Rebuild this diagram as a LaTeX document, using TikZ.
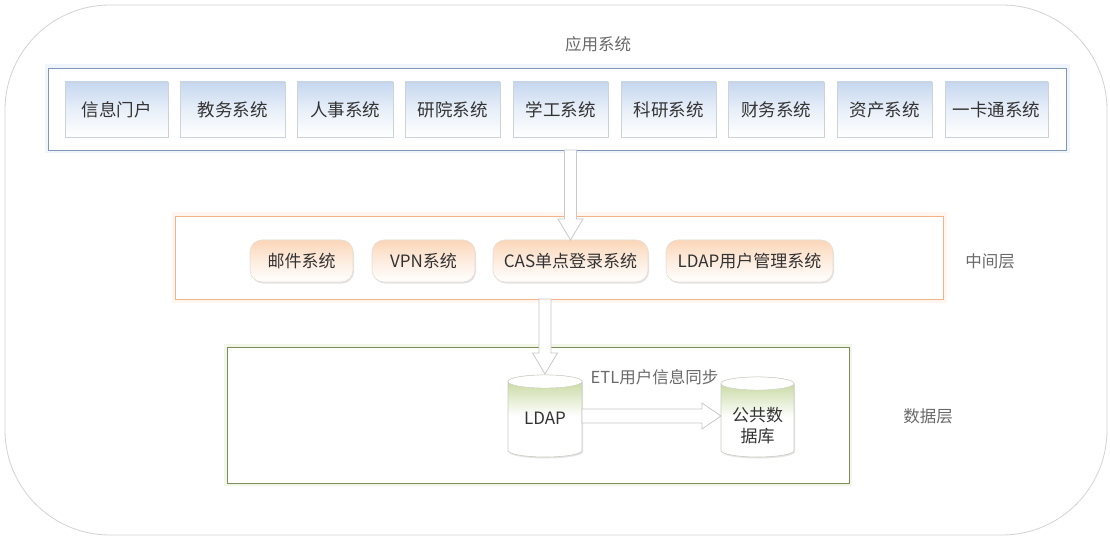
\documentclass[tikz,border=0pt]{standalone}
\usepackage{fontspec}
\setmainfont{Noto Sans CJK SC}
\usetikzlibrary{calc,shadows}
\definecolor{txt}{HTML}{333333}
\definecolor{lbl}{HTML}{6A6A6A}
\definecolor{outerln}{HTML}{D2D2D2}
\definecolor{blueln}{HTML}{8097B8}
\definecolor{bluetop}{HTML}{C5D7EF}
\definecolor{boxln}{HTML}{CDD3DB}
\definecolor{orangeln}{HTML}{F2B38A}
\definecolor{orangetop}{HTML}{FBD6B8}
\definecolor{orboxln}{HTML}{E6DDD5}
\definecolor{greenln}{HTML}{7E8D5C}
\definecolor{greentop}{HTML}{BFD393}
\definecolor{cylln}{HTML}{C9CDC2}
\definecolor{arrln}{HTML}{C8C8C8}
\newcommand\blkdown[2]{\draw[blockarrow] let \p1=(#1), \p2=(#2) in
  (\x2-6pt,\y1) -- (\x2-6pt,\y2+21pt) -- (\x2-12.5pt,\y2+21pt) -- (\x2,\y2)
  -- (\x2+12.5pt,\y2+21pt) -- (\x2+6pt,\y2+21pt) -- (\x2+6pt,\y1) -- cycle;}
\newcommand\blkright[2]{\draw[blockarrow] let \p1=(#1), \p2=(#2) in
  (\x1,\y1+7pt) -- (\x2-19pt,\y1+7pt) -- (\x2-19pt,\y1+13pt) -- (\x2,\y1)
  -- (\x2-19pt,\y1-13pt) -- (\x2-19pt,\y1-7pt) -- (\x1,\y1-7pt) -- cycle;}
\newcommand\dbcyl[1]{%
  \draw[cylbody] ([yshift=-6.5pt]#1.north west) -- ([yshift=6.5pt]#1.south west)
    arc[start angle=180,end angle=360,x radius=0.5*\cylw,y radius=6.5pt]
    -- ([yshift=-6.5pt]#1.north east)
    arc[start angle=0,end angle=180,x radius=0.5*\cylw,y radius=6.5pt] -- cycle;
  \draw[draw=cylln,fill=white] ([yshift=-6.5pt]#1.north) ellipse[x radius=0.5*\cylw,y radius=6.5pt];}
\newlength\cylw
\begin{document}
\begin{tikzpicture}[x=1pt,y=-1pt,
  every node/.style={inner sep=0pt,outer sep=0pt},
  outerbox/.style={draw=outerln,line width=0.8pt,rounded corners=105pt},
  frame/.style={line width=0.9pt},
  bluefr/.style={frame,draw=blueln,fill=white,preaction={draw=bluetop!25,line width=7pt}},
  orangefr/.style={frame,draw=orangeln,fill=white,preaction={draw=orangetop!22,line width=7pt}},
  greenfr/.style={frame,draw=greenln,fill=white,preaction={draw=greentop!20,line width=6pt}},
  appbox/.style={draw=boxln,line width=0.6pt,top color=bluetop,bottom color=white,middle color=white!60!bluetop,
    minimum height=55pt,text=txt,font=\fontsize{17.5}{20}\selectfont,
    drop shadow={opacity=0.25,shadow xshift=1pt,shadow yshift=-1.5pt}},
  orbox/.style={draw=orboxln,line width=0.6pt,rounded corners=12pt,top color=orangetop,bottom color=white,middle color=white!55!orangetop,
    minimum height=42pt,text=txt,font=\fontsize{17}{20}\selectfont,
    drop shadow={opacity=0.22,shadow xshift=1pt,shadow yshift=-1.5pt,rounded corners=12pt}},
  cylbody/.style={draw=cylln,line width=0.6pt,top color=greentop,bottom color=white,middle color=white,
    drop shadow={opacity=0.2,shadow xshift=1pt,shadow yshift=-1.5pt}},
  dbnode/.style={minimum height=82pt},
  dbtext/.style={text=txt,font=\fontsize{17}{21}\selectfont,align=center},
  layertext/.style={text=lbl,font=\fontsize{16.5}{20}\selectfont},
  blockarrow/.style={draw=arrln,line width=0.8pt,fill=white,line join=miter}
]
\path[use as bounding box,fill=white] (0,0) rectangle (1110,537);
\draw[outerbox] (5,5) rectangle (1107,535);

% frames
\node[bluefr,minimum width=1018pt,minimum height=82pt] (blue) at (557,109) {};
\node[orangefr,minimum width=768pt,minimum height=83pt] (orange) at (559,257.5) {};
\node[greenfr,minimum width=622pt,minimum height=136pt] (green) at (538,415) {};

% layer labels
\node[layertext] (lapp) at (598,44) {应用系统};
\node[layertext] (lmid) at (990,261) {中间层};
\node[layertext] (ldata) at (928,416) {数据层};

% application systems
\node[appbox,minimum width=103pt] (a1) at (116.5,109.5) {信息门户};
\node[appbox,minimum width=105pt] (a2) at (232.5,109.5) {教务系统};
\node[appbox,minimum width=96pt]  (a3) at (345,109.5) {人事系统};
\node[appbox,minimum width=95pt]  (a4) at (452.5,109.5) {研院系统};
\node[appbox,minimum width=95pt]  (a5) at (560.5,109.5) {学工系统};
\node[appbox,minimum width=95pt]  (a6) at (668.5,109.5) {科研系统};
\node[appbox,minimum width=96pt]  (a7) at (776,109.5) {财务系统};
\node[appbox,minimum width=95pt]  (a8) at (884.5,109.5) {资产系统};
\node[appbox,minimum width=103pt] (a9) at (996.5,109.5) {一卡通系统};

% middle layer
\node[orbox,minimum width=103pt] (mail) at (301.5,261) {邮件系统};
\node[orbox,minimum width=103pt] (vpn) at (423.5,261) {VPN系统};
\node[orbox,minimum width=155pt] (cas) at (570.5,261) {CAS单点登录系统};
\node[orbox,minimum width=167pt] (ldapm) at (749.5,261) {LDAP用户管理系统};

% data layer
\node[dbnode,minimum width=74pt] (ldap) at (545,416) {};
\node[dbnode,minimum width=73pt,minimum height=80pt] (pub) at (757.5,417) {};
\setlength\cylw{74pt}\dbcyl{ldap}
\setlength\cylw{73pt}\dbcyl{pub}
\node[dbtext] (ldapt) at ([yshift=-2pt]ldap.center) {LDAP};
\node[dbtext] (pubt) at ([yshift=-9pt]pub.center) {公共数\\据库};

% arrows
\blkdown{blue.south -| cas.north}{cas.north}
\blkdown{orange.south -| ldap.north}{[yshift=1pt]ldap.north}
\blkright{ldap.east}{pub.west |- ldap.east}
\node[layertext] (etl) at (654.5,377) {ETL用户信息同步};
\end{tikzpicture}
\end{document}
